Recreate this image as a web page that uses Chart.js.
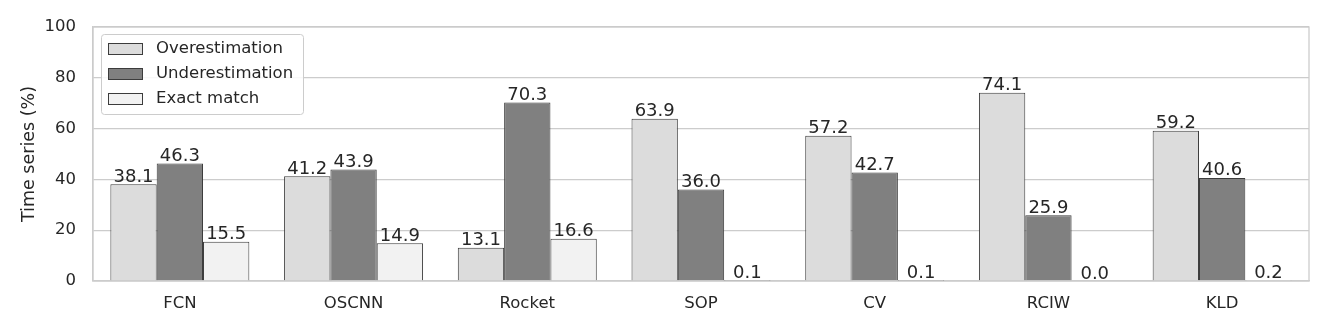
<!DOCTYPE html>
<html><head><meta charset="utf-8">
<script src="https://cdn.jsdelivr.net/npm/chart.js@4.4.1/dist/chart.umd.min.js"></script>
<style>html,body{margin:0;padding:0;background:#fff}#wrap{width:1329px;height:332px}</style>
</head><body><div id="wrap"><canvas id="c" width="1329" height="332"></canvas></div>
<script>
const categories = ['FCN','OSCNN','Rocket','SOP','CV','RCIW','KLD'];
const overestimation = [38.1, 41.2, 13.1, 63.9, 57.2, 74.1, 59.2];
const underestimation = [46.3, 43.9, 70.3, 36.0, 42.7, 25.9, 40.6];
const exactMatch = [15.5, 14.9, 16.6, 0.1, 0.1, 0.0, 0.2];
const seriesNames = ['Overestimation','Underestimation','Exact match'];
const yTicks = [0, 20, 40, 60, 80, 100];

const FONT = "'DejaVu Sans', sans-serif";
const fills = ['#dcdcdc', '#808080', '#f2f2f2'];
const edge = '#3c3c3c';

const labelPlugin = {
  id: 'barLabels',
  afterDatasetsDraw(chart) {
    const ctx = chart.ctx;
    ctx.save();
    ctx.fillStyle = '#262626';
    ctx.font = "18px " + FONT;
    ctx.textAlign = 'center';
    ctx.textBaseline = 'alphabetic';
    chart.data.datasets.forEach((ds, i) => {
      chart.getDatasetMeta(i).data.forEach((bar, j) => {
        ctx.fillText(ds.data[j].toFixed(1), bar.x, bar.y - 2.5);
      });
    });
    ctx.restore();
  }
};

const framePlugin = {
  id: 'frame',
  beforeDatasetsDraw(chart) {
    const a = chart.chartArea, ctx = chart.ctx;
    ctx.save();
    ctx.strokeStyle = '#cccccc';
    ctx.lineWidth = 1.3;
    ctx.strokeRect(a.left, a.top, a.right - a.left, a.bottom - a.top);
    ctx.restore();
  },
  afterDraw(chart) {
    const a = chart.chartArea, ctx = chart.ctx;
    const x = a.left + 8, y = a.top + 7, w = 202, h = 80;
    ctx.save();
    ctx.fillStyle = 'rgba(255,255,255,0.85)';
    ctx.strokeStyle = '#cccccc';
    ctx.lineWidth = 1;
    ctx.beginPath();
    ctx.roundRect(x + 0.5, y + 0.5, w, h, 3);
    ctx.fill(); ctx.stroke();
    ctx.font = "16.5px " + FONT;
    ctx.textBaseline = 'middle';
    ctx.textAlign = 'left';
    seriesNames.forEach((n, i) => {
      const cy = y + 15 + i * 25;
      ctx.fillStyle = fills[i];
      ctx.strokeStyle = edge;
      ctx.fillRect(x + 7, cy - 6, 35, 12);
      ctx.strokeRect(x + 7.5, cy - 5.5, 34, 11);
      ctx.fillStyle = '#262626';
      ctx.fillText(n, x + 55, cy);
    });
    ctx.restore();
  }
};

new Chart(document.getElementById('c'), {
  type: 'bar',
  data: {
    labels: categories,
    datasets: [overestimation, underestimation, exactMatch].map((d, i) => ({
      label: seriesNames[i], data: d,
      backgroundColor: fills[i], borderColor: edge, borderWidth: 1,
      categoryPercentage: 0.8, barPercentage: 1.0
    }))
  },
  options: {
    responsive: false, animation: false,
    layout: { padding: { top: 27, right: 20, left: 0, bottom: 0 } },
    plugins: { legend: { display: false }, tooltip: { enabled: false } },
    scales: {
      x: {
        grid: { display: false, drawTicks: false },
        border: { display: true, color: '#cccccc', width: 1.3 },
        ticks: { color: '#262626', font: { family: FONT, size: 16.5 }, padding: 13, maxRotation: 0 },
        afterFit(s) { s.height = 51; }
      },
      y: {
        min: 0, max: 100,
        afterBuildTicks(s) { s.ticks = yTicks.map(v => ({ value: v })); },
        grid: { color: '#cccccc', lineWidth: 1.3, drawTicks: false },
        border: { display: true, color: '#cccccc', width: 1.3 },
        ticks: { color: '#262626', font: { family: FONT, size: 16.5 }, padding: 17 },
        title: { display: true, text: 'Time series (%)', color: '#262626', font: { family: FONT, size: 17.5 }, padding: { top: 19, bottom: 0 } },
        afterFit(s) { s.width = 93; }
      }
    }
  },
  plugins: [framePlugin, labelPlugin]
});
</script></body></html>
